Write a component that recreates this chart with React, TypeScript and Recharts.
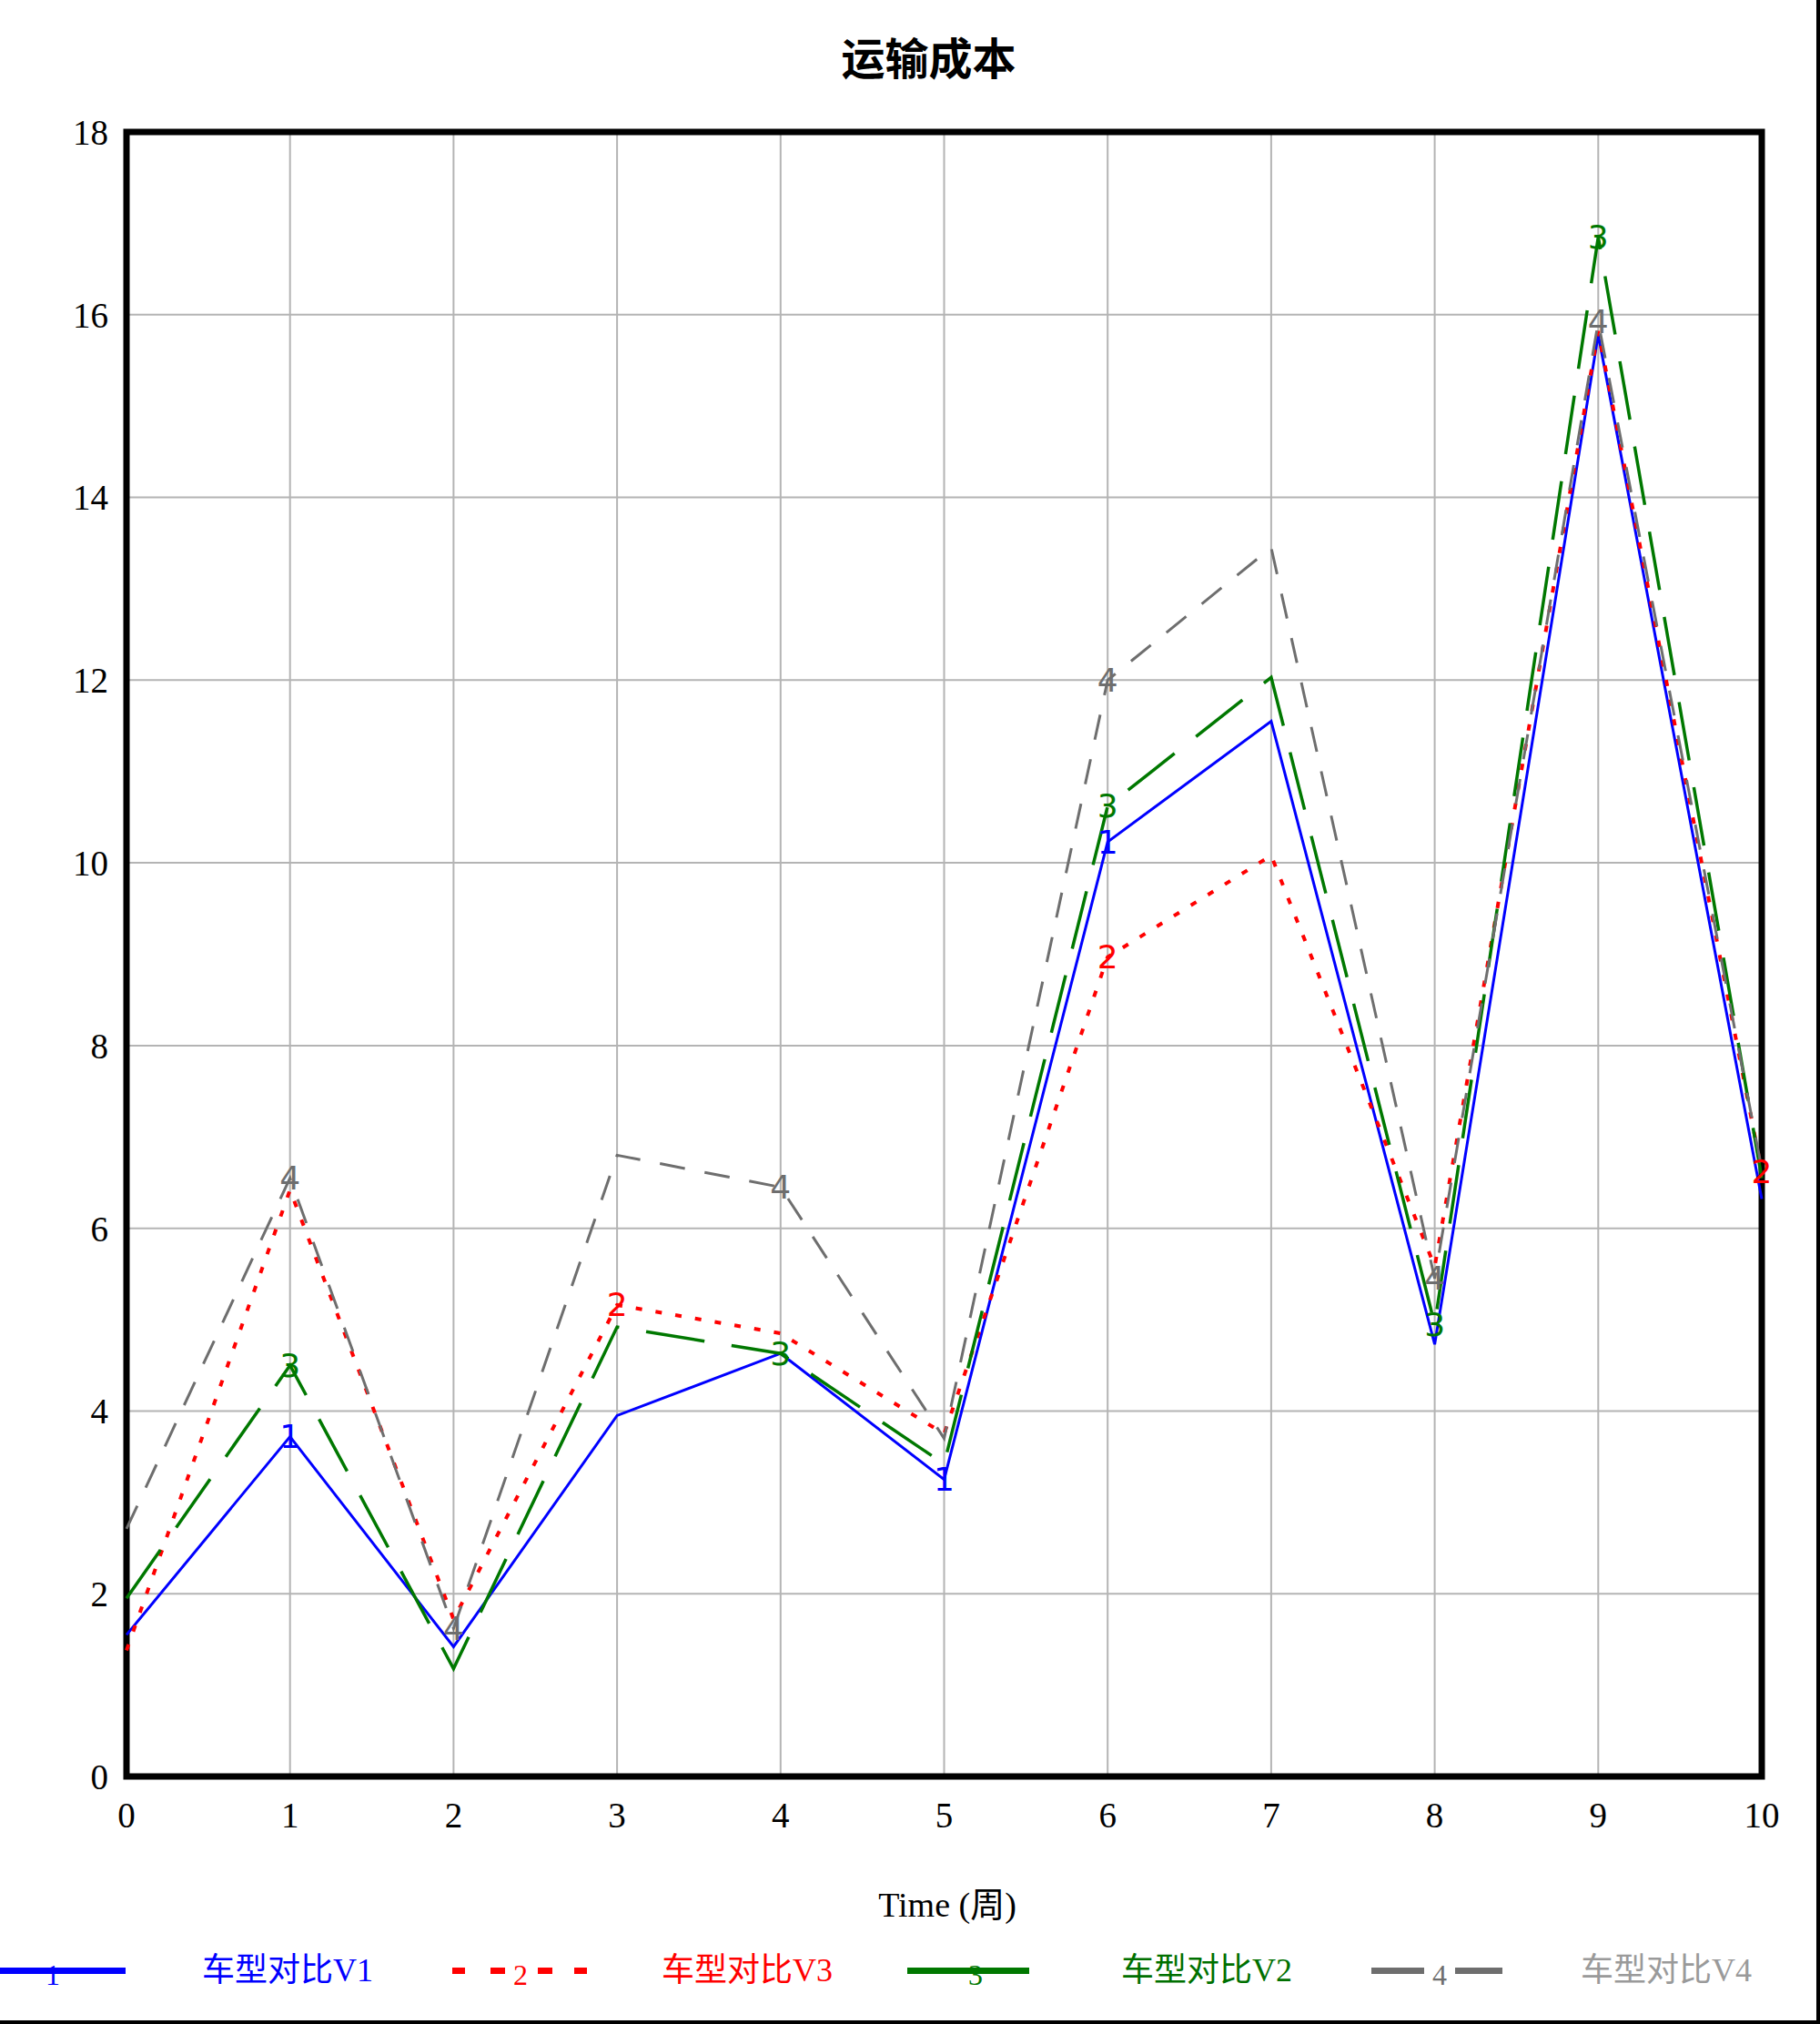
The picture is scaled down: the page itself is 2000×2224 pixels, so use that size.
import { LineChart, Line, XAxis, YAxis, CartesianGrid, ReferenceArea } from 'recharts';

// weeks on the x axis, transport cost per vehicle variant
const weeks = [0, 1, 2, 3, 4, 5, 6, 7, 8, 9, 10];
const carV1 = [1.55, 3.72, 1.42, 3.95, 4.63, 3.25, 10.23, 11.55, 4.73, 15.78, 6.32];
const carV3 = [1.38, 6.42, 1.72, 5.16, 4.85, 3.75, 8.97, 10.08, 5.58, 15.82, 6.62];
const carV2 = [1.95, 4.5, 1.18, 4.92, 4.63, 3.42, 10.62, 12.03, 4.95, 16.85, 6.55];
const carV4 = [2.71, 6.55, 1.62, 6.8, 6.45, 3.7, 12.0, 13.45, 5.45, 15.92, 6.65];
const yTicks = [0, 2, 4, 6, 8, 10, 12, 14, 16, 18];
const seriesNames = ['车型对比V1', '车型对比V3', '车型对比V2', '车型对比V4'];
// points where the series number is printed on the line
const markIndex = [
  [1, 5, 6],
  [3, 6, 10],
  [1, 4, 6, 8, 9],
  [1, 2, 4, 6, 8, 9],
];

const data = weeks.map((t, i) => ({ t, v1: carV1[i], v3: carV3[i], v2: carV2[i], v4: carV4[i] }));

const SERIF = "'Liberation Serif', 'Noto Sans CJK SC', serif";

const styles = [
  { key: 'v1', mark: '1', color: '#0000ff', text: '#0000ff', dash: undefined as string | undefined, width: 3 },
  { key: 'v3', mark: '2', color: '#ff0000', text: '#ff0000', dash: '7 15', width: 4 },
  { key: 'v2', mark: '3', color: '#007800', text: '#007000', dash: '65 30', width: 3.5 },
  { key: 'v4', mark: '4', color: '#6e6e6e', text: '#9a9a9a', dash: '28 22', width: 3 },
];

function markDot(mark: string, color: string, idx: number[]) {
  return (p: any) => {
    const { cx, cy, index } = p;
    if (!idx.includes(index) || cx == null || cy == null) return <g key={`d-${mark}-${index}`} />;
    return (
      <text
        key={`d-${mark}-${index}`}
        x={cx}
        y={cy}
        textAnchor="middle"
        dominantBaseline="central"
        fontSize={36}
        fontFamily="'DejaVu Sans', sans-serif"
        fill={color}
      >
        {mark}
      </text>
    );
  };
}

function LegendSymbol({ i }: { i: number }) {
  const s = styles[i];
  const w = 150;
  const num = (
    <text x={i === 0 ? 66 : 75} y={29} textAnchor="middle" dominantBaseline="central" fontSize={32} fontFamily={SERIF} fill={s.color}>
      {s.mark}
    </text>
  );
  if (i === 1) {
    return (
      <svg width={w} height={50}>
        {[0, 42, 94, 134].map((x) => (
          <rect key={x} x={x} y={21} width={x === 0 || x === 134 ? 14 : 16} height={7} fill={s.color} />
        ))}
        {num}
      </svg>
    );
  }
  if (i === 3) {
    return (
      <svg width={w} height={50}>
        <rect x={0} y={21} width={58} height={7} fill={s.color} />
        <rect x={92} y={21} width={52} height={7} fill={s.color} />
        {num}
      </svg>
    );
  }
  return (
    <svg width={w} height={50}>
      <rect x={0} y={21} width={i === 0 ? 146 : 134} height={7} fill={s.color} />
      {num}
    </svg>
  );
}

export default function App() {
  return (
    <div style={{ position: 'relative', width: 2000, height: 2224, background: '#fff' }}>
      <style>{'body{margin:0}'}</style>
      <div
        style={{
          position: 'absolute',
          top: 26,
          left: 0,
          width: 2041,
          textAlign: 'center',
          fontSize: 48,
          fontWeight: 'bold',
          fontFamily: "'Noto Sans CJK SC', sans-serif",
          color: '#000',
        }}
      >
        运输成本
      </div>
      <div style={{ position: 'absolute', left: 0, top: 0 }}>
        <LineChart width={2000} height={2224} data={data} margin={{ top: 145, right: 64, left: 39, bottom: 222 }}>
          <CartesianGrid stroke="#b4b4b4" strokeWidth={2} />
          <XAxis
            dataKey="t"
            type="number"
            domain={[0, 10]}
            ticks={weeks}
            height={50}
            tickLine={false}
            tickSize={0}
            tickMargin={28}
            axisLine={false}
            tick={{ fontSize: 39, fill: '#000', fontFamily: SERIF }}
          />
          <YAxis
            type="number"
            domain={[0, 18]}
            ticks={yTicks}
            width={100}
            tickLine={false}
            tickSize={0}
            tickMargin={20}
            axisLine={false}
            tick={{ fontSize: 39, fill: '#000', fontFamily: SERIF }}
          />
          {styles.map((s, i) => (
            <Line
              key={s.key}
              dataKey={s.key}
              name={seriesNames[i]}
              type="linear"
              stroke={s.color}
              strokeWidth={s.width}
              strokeDasharray={s.dash}
              dot={markDot(s.mark, s.color, markIndex[i])}
              activeDot={false}
              isAnimationActive={false}
            />
          ))}
          <ReferenceArea
            x1={0}
            x2={10}
            y1={0}
            y2={18}
            fill="none"
            fillOpacity={0}
            stroke="#000"
            strokeWidth={7}
            strokeOpacity={1}
          />
        </LineChart>
      </div>
      <div
        style={{
          position: 'absolute',
          top: 2062,
          left: 0,
          width: 2082,
          textAlign: 'center',
          fontSize: 38,
          fontFamily: SERIF,
          color: '#000',
        }}
      >
        Time (周)
      </div>
      {styles.map((s, i) => (
        <div key={s.key}>
          <div style={{ position: 'absolute', left: i * 505 - 8 + (i === 2 ? -5 : 0), top: 2141 }}>
            <LegendSymbol i={i} />
          </div>
          <div
            style={{
              position: 'absolute',
              left: 222 + i * 505,
              top: 2140,
              fontSize: 36,
              fontFamily: SERIF,
              color: s.text,
              whiteSpace: 'nowrap',
              lineHeight: '50px',
            }}
          >
            {seriesNames[i]}
          </div>
        </div>
      ))}
      <div
        style={{
          position: 'absolute',
          left: 0,
          top: 0,
          width: 2000,
          height: 2224,
          boxSizing: 'border-box',
          borderRight: '4px solid #000',
          borderBottom: '4px solid #000',
          pointerEvents: 'none',
        }}
      />
    </div>
  );
}
